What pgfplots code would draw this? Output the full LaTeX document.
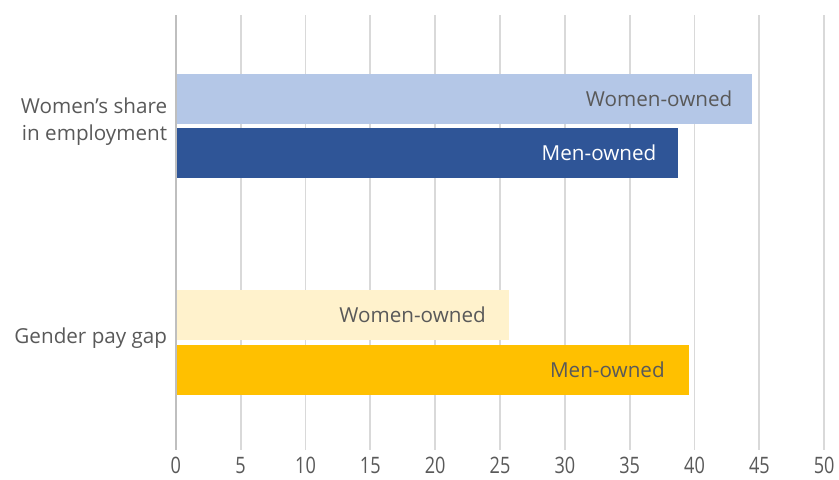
\documentclass[border=0pt]{standalone}
\usepackage{fontspec}
\setmainfont{Open Sans}
\newfontfamily\condfont[FakeStretch=0.8]{Open Sans}
\usepackage{pgfplots}
\pgfplotsset{compat=1.18}
\definecolor{txtgray}{HTML}{595959}
\definecolor{gridgray}{HTML}{D9D9D9}
\definecolor{axgray}{HTML}{BFBFBF}
\definecolor{lblue}{HTML}{B4C7E7}
\definecolor{dblue}{HTML}{2F5597}
\definecolor{lyellow}{HTML}{FFF2CC}
\definecolor{gold}{HTML}{FFC000}
\begin{document}
\begin{tikzpicture}
\begin{axis}[
  scale only axis,
  width=486.75pt, height=326.25pt,
  xbar, bar width=0.23, bar shift=0pt,
  xmin=0, xmax=50, ymin=-0.5, ymax=1.514,
  xtick={0,5,...,50},
  ytick={0,1},
  yticklabels={Gender pay gap,{Women's share\\in employment}},
  yticklabel style={align=right, font=\fontsize{15.5}{20}\selectfont, text=txtgray, xshift=-3pt, yshift=3pt},
  xticklabel style={font=\condfont\fontsize{17}{17}\selectfont, text=txtgray, yshift=-2pt},
  /pgf/number format/assume math mode=true,
  major tick length=0pt,
  xmajorgrids,
  major grid style={gridgray, line width=1.4pt},
  axis line style={draw=none},
  axis x line*=bottom, axis y line*=left,
  clip=false,
  nodes near coords,
  point meta=explicit symbolic,
  every node near coord/.append style={anchor=east, font=\fontsize{15.5}{15.5}\selectfont},
]
\addplot[fill=lblue, draw=none, every node near coord/.append style={text=txtgray, xshift=-11pt}] coordinates {(44.4,1.125) [Women-owned]};
\addplot[fill=dblue, draw=none, every node near coord/.append style={text=white, xshift=-13pt}] coordinates {(38.75,0.875) [Men-owned]};
\addplot[fill=lyellow, draw=none, every node near coord/.append style={text=txtgray, xshift=-14pt}] coordinates {(25.7,0.125) [Women-owned]};
\addplot[fill=gold, draw=none, every node near coord/.append style={text=txtgray, xshift=-15pt}] coordinates {(39.6,-0.13) [Men-owned]};
\draw[axgray, line width=1.6pt] (axis cs:0,-0.5) -- (axis cs:0,1.514);
\end{axis}
\useasboundingbox (current axis.south west) ++(-132pt,-22.5pt) rectangle ([xshift=10.5pt,yshift=11.25pt]current axis.north east);
\end{tikzpicture}
\end{document}
